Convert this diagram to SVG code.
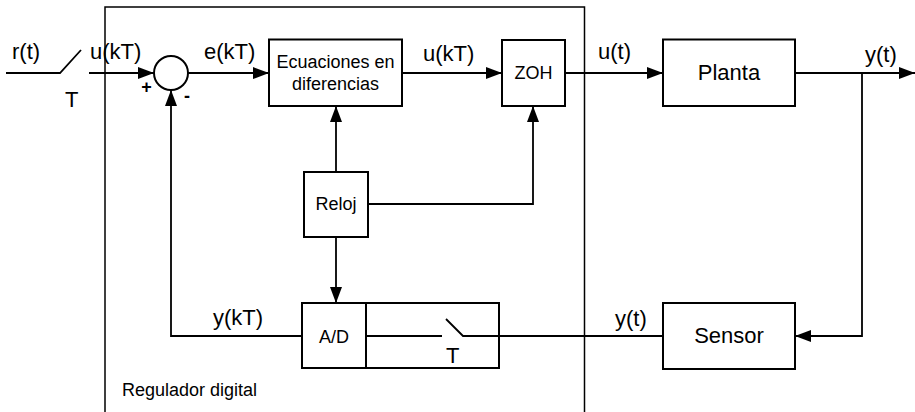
<svg xmlns="http://www.w3.org/2000/svg" width="915" height="412" viewBox="0 0 915 412">
<style>
.box{fill:#fff;stroke:#000;stroke-width:2}
.ln{fill:none;stroke:#000;stroke-width:1.8}
.t{font-family:"Liberation Sans",Arial,sans-serif;fill:#000}
.big{font-size:22px}
.sm{font-size:18px}
.mid{text-anchor:middle}
</style>
<defs>
<marker id="ah" markerUnits="userSpaceOnUse" markerWidth="16" markerHeight="12" refX="16" refY="6" orient="auto">
<path d="M0,0 L16,6 L0,12 z" fill="#000"/>
</marker>
</defs>
<rect width="915" height="412" fill="#fff"/>
<g id="regulador">
<path d="M105,420 V7 H584.5 V420" fill="none" stroke="#000" stroke-width="1.5"/>
<text class="t sm" x="122" y="396">Regulador digital</text>
</g>
<g id="connectors">
<path class="ln" d="M6,73 H60 L81,50"/>
<path class="ln" d="M89,73 H154" marker-end="url(#ah)"/>
<path class="ln" d="M188,73 H269" marker-end="url(#ah)"/>
<path class="ln" d="M402,73 H502" marker-end="url(#ah)"/>
<path class="ln" d="M565,73 H663" marker-end="url(#ah)"/>
<path class="ln" d="M795,73 H915" marker-end="url(#ah)"/>
<path class="ln" d="M862,73 V336 H795" marker-end="url(#ah)"/>
<path class="ln" d="M663,336 H463 L446,319"/>
<path class="ln" d="M442,336 H366"/>
<path class="ln" d="M302,336 H171 V90" marker-end="url(#ah)"/>
<path class="ln" d="M336,172 V106" marker-end="url(#ah)"/>
<path class="ln" d="M368,204 H533 V106" marker-end="url(#ah)"/>
<path class="ln" d="M336,237 V303" marker-end="url(#ah)"/>
</g>
<g id="sum">
<circle cx="171" cy="73" r="17" class="box"/>
<text class="t sm" x="146.5" y="92.5" text-anchor="middle" font-weight="bold">+</text>
<text class="t sm" x="187" y="102" text-anchor="middle" font-weight="bold">-</text>
</g>
<g id="ecuaciones">
<rect class="box" x="269" y="39.5" width="133" height="66.5"/>
<text class="t sm mid" x="335.5" y="68">Ecuaciones en</text>
<text class="t sm mid" x="335.5" y="90">diferencias</text>
</g>
<g id="zoh">
<rect class="box" x="502" y="40" width="63" height="66"/>
<text class="t sm mid" x="533.5" y="79">ZOH</text>
</g>
<g id="planta">
<rect class="box" x="663" y="39.5" width="132" height="66.5"/>
<text class="t big mid" x="729" y="80">Planta</text>
</g>
<g id="reloj">
<rect class="box" x="304" y="172" width="64" height="65"/>
<text class="t sm mid" x="336" y="210">Reloj</text>
</g>
<g id="ad">
<rect class="box" x="302" y="303" width="64" height="65"/>
<text class="t sm mid" x="334" y="343">A/D</text>
</g>
<g id="muestreador">
<rect x="366" y="303" width="133" height="65" fill="none" stroke="#000" stroke-width="2"/>
<text class="t big" x="446" y="362.5">T</text>
</g>
<g id="sensor">
<rect class="box" x="663" y="303" width="132" height="66"/>
<text class="t big mid" x="729" y="343">Sensor</text>
</g>
<g id="labels">
<text class="t big" x="12" y="59">r(t)</text>
<text class="t big" x="65" y="107">T</text>
<text class="t big" x="90" y="59">u(kT)</text>
<text class="t big" x="204" y="59">e(kT)</text>
<text class="t big" x="423" y="61">u(kT)</text>
<text class="t big" x="598" y="59">u(t)</text>
<text class="t big" x="865" y="62">y(t)</text>
<text class="t big" x="213" y="325">y(kT)</text>
<text class="t big" x="615" y="326">y(t)</text>
</g>
</svg>
